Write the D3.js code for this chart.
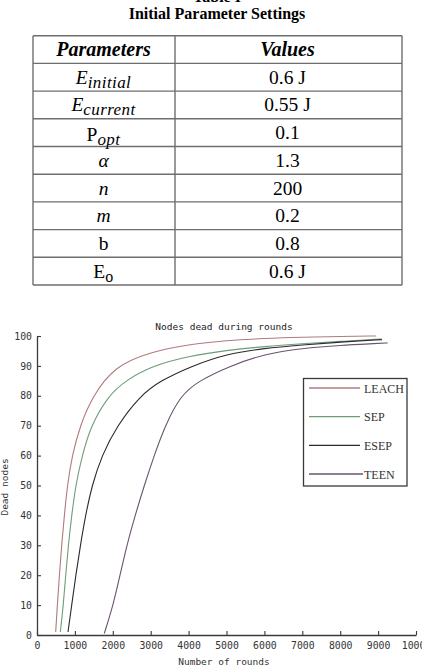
<!DOCTYPE html>
<html>
<head>
<meta charset="utf-8">
<script src="https://cdn.jsdelivr.net/npm/d3@7"></script>
<style>
  html, body { margin: 0; padding: 0; background: #fff; }
  svg { display: block; }
</style>
</head>
<body>
<svg id="chart" width="422" height="670"></svg>
<script>
// ---------- TABLE DATA ----------
const tableCaption = "Table I";
const tableTitle = "Initial Parameter Settings";
const headers = ["Parameters", "Values"];
const paramMain = ["E", "E", "P", "α", "n", "m", "b", "E"];
const paramMainItalic = [true, true, false, true, true, true, false, false];
const paramSub = ["initial", "current", "opt", "", "", "", "", "o"];
const paramSubItalic = [true, true, true, false, false, false, false, false];
const paramValues = ["0.6 J", "0.55 J", "0.1", "1.3", "200", "0.2", "0.8", "0.6 J"];

// ---------- CHART DATA ----------
const chartTitle = "Nodes dead during rounds";
const xLabel = "Number of rounds";
const yLabel = "Dead nodes";
const xTicks = [0, 1000, 2000, 3000, 4000, 5000, 6000, 7000, 8000, 9000, 10000];
const yTicks = [0, 10, 20, 30, 40, 50, 60, 70, 80, 90, 100];
const seriesNames = ["LEACH", "SEP", "ESEP", "TEEN"];

const leachRounds = [493, 537, 590, 650, 722, 800, 925, 1135, 1470, 2060, 3000, 4000, 5000, 6000, 7000, 8000, 8950];
const leachDead   = [1, 10, 20, 30, 40, 50, 60, 70, 80, 90, 94.7, 97.2, 98.5, 99.2, 99.6, 99.85, 100];

const sepRounds = [615, 695, 757, 827, 915, 1020, 1190, 1420, 1880, 2323, 3028, 4000, 5000, 6000, 7000, 8000, 9100];
const sepDead   = [1, 10, 20, 30, 40, 50, 60, 70, 80, 85, 90, 93.3, 95.2, 96.5, 97.4, 98.2, 99.0];

const esepRounds = [818, 915, 1025, 1145, 1280, 1450, 1707, 2110, 2720, 3248, 4085, 5000, 6000, 7000, 8000, 9100];
const esepDead   = [1, 10, 20, 30, 40, 50, 60, 70, 80, 85, 90, 94.0, 95.9, 97.0, 98.0, 98.8];

const teenRounds = [1775, 2010, 2190, 2370, 2590, 2830, 3090, 3380, 3780, 4260, 5095, 6000, 7000, 8000, 9000, 9250];
const teenDead   = [0.5, 10, 20, 30, 40, 50, 60, 70, 80, 85, 90, 94.0, 95.9, 96.9, 97.5, 97.7];

const seriesRounds = [leachRounds, sepRounds, esepRounds, teenRounds];
const seriesDead = [leachDead, sepDead, esepDead, teenDead];
const seriesColors = ["#b07a7e", "#6f9c78", "#2a2a2a", "#6a5470"];

// ---------- DRAW ----------
const svg = d3.select("#chart");
const serif = "'Liberation Serif', 'Times New Roman', serif";
const mono = "'DejaVu Sans Mono', monospace";

// Table caption and title
svg.append("text").attr("x", 217).attr("y", 1.5).attr("text-anchor", "middle")
  .attr("font-family", serif).attr("font-weight", "bold").attr("font-size", 16)
  .text(tableCaption);
svg.append("text").attr("x", 217).attr("y", 19.3).attr("text-anchor", "middle")
  .attr("font-family", serif).attr("font-weight", "bold").attr("font-size", 16)
  .text(tableTitle);

// Table grid
const rowKeys = d3.range(paramValues.length + 1);
const rowBand = d3.scaleBand().domain(rowKeys).range([35.7, 285]);
const colX = d3.scaleOrdinal().domain([0, 1, 2]).range([33, 175, 402]);
const colCenter = [103.5, 287.5];

const tbl = svg.append("g");
rowKeys.forEach(k => {
  tbl.append("line")
    .attr("x1", colX(0)).attr("x2", colX(2))
    .attr("y1", rowBand(k)).attr("y2", rowBand(k))
    .attr("stroke", "#6e6e6e").attr("stroke-width", 1.4);
});
tbl.append("line").attr("x1", colX(0)).attr("x2", colX(2))
  .attr("y1", rowBand.range()[1]).attr("y2", rowBand.range()[1])
  .attr("stroke", "#6e6e6e").attr("stroke-width", 1.6);
[0, 1, 2].forEach(c => {
  tbl.append("line").attr("x1", colX(c)).attr("x2", colX(c))
    .attr("y1", rowBand.range()[0]).attr("y2", rowBand.range()[1])
    .attr("stroke", "#6e6e6e").attr("stroke-width", 1.4);
});

const rowBase = k => rowBand(k) + rowBand.bandwidth() / 2 + 6.5;

// Header
headers.forEach((h, i) => {
  tbl.append("text").attr("x", colCenter[i]).attr("y", rowBase(0))
    .attr("text-anchor", "middle").attr("font-family", serif)
    .attr("font-weight", "bold").attr("font-style", "italic").attr("font-size", 20)
    .text(h);
});

// Rows
paramValues.forEach((v, i) => {
  const k = i + 1;
  const t = tbl.append("text").attr("x", colCenter[0]).attr("y", rowBase(k) + (paramMain[i] === "P" ? 2 : 0))
    .attr("text-anchor", "middle").attr("font-family", serif).attr("font-size", 19.5);
  t.append("tspan").attr("font-style", paramMainItalic[i] ? "italic" : "normal").text(paramMain[i]);
  if (paramSub[i]) {
    t.append("tspan").attr("font-style", paramSubItalic[i] ? "italic" : "normal")
      .attr("font-size", paramSubItalic[i] ? 17 : 16).attr("dy", 4).attr("letter-spacing", 0.4)
      .text(paramSub[i]);
  }
  tbl.append("text").attr("x", colCenter[1]).attr("y", rowBase(k))
    .attr("text-anchor", "middle").attr("font-family", serif).attr("font-size", 19.5)
    .text(v);
});

// Chart
const x = d3.scaleLinear().domain([0, 10000]).range([37, 416]);
const y = d3.scaleLinear().domain([0, 100]).range([635, 336]);

svg.append("text").attr("x", 224).attr("y", 329.5).attr("text-anchor", "middle")
  .attr("font-family", mono).attr("font-size", 9.5).attr("fill", "#222")
  .text(chartTitle);

const xAxis = svg.append("g").attr("transform", `translate(0,${y(0)})`)
  .call(d3.axisBottom(x).tickValues(xTicks).tickFormat(d3.format("d"))
    .tickSizeInner(-4).tickSizeOuter(0).tickPadding(7));
const yAxis = svg.append("g").attr("transform", `translate(${x(0)},0)`)
  .call(d3.axisLeft(y).tickValues(yTicks).tickFormat(d3.format("d"))
    .tickSizeInner(-4).tickSizeOuter(0).tickPadding(5));
[xAxis, yAxis].forEach(a => {
  a.selectAll("path.domain").attr("stroke", "#3a3a3a").attr("stroke-width", 1.3);
  a.selectAll(".tick line").attr("stroke", "#3a3a3a").attr("stroke-width", 1.1);
  a.selectAll(".tick text").attr("font-family", mono).attr("font-size", 9.8).attr("fill", "#333");
});

svg.append("text").attr("x", 224).attr("y", 665).attr("text-anchor", "middle")
  .attr("font-family", mono).attr("font-size", 9.5).attr("fill", "#333")
  .text(xLabel);
svg.append("text").attr("transform", `translate(8,487) rotate(-90)`).attr("text-anchor", "middle")
  .attr("font-family", mono).attr("font-size", 9.5).attr("fill", "#333")
  .text(yLabel);

const line = d3.line().x(d => x(d[0])).y(d => y(d[1])).curve(d3.curveBasis);
seriesNames.forEach((name, i) => {
  const pts = seriesRounds[i].map((r, j) => [r, seriesDead[i][j]]);
  svg.append("path").datum(pts).attr("d", line)
    .attr("fill", "none").attr("stroke", seriesColors[i]).attr("stroke-width", 1.1);
});

// Legend
const lg = svg.append("g");
lg.append("rect").attr("x", 303.5).attr("y", 378.5).attr("width", 103.5).attr("height", 107.5)
  .attr("fill", "#fff").attr("stroke", "#3a3a3a").attr("stroke-width", 1.3);
const legendY = d3.scalePoint().domain(seriesNames).range([388, 474]);
seriesNames.forEach((name, i) => {
  lg.append("line").attr("x1", 309).attr("x2", i === 3 ? 363 : 360)
    .attr("y1", legendY(name)).attr("y2", legendY(name))
    .attr("stroke", seriesColors[i]).attr("stroke-width", 1.3);
  lg.append("text").attr("x", 364).attr("y", legendY(name) + 4.5)
    .attr("font-family", serif).attr("font-size", 12).attr("fill", "#333")
    .text(name);
});
</script>
</body>
</html>
